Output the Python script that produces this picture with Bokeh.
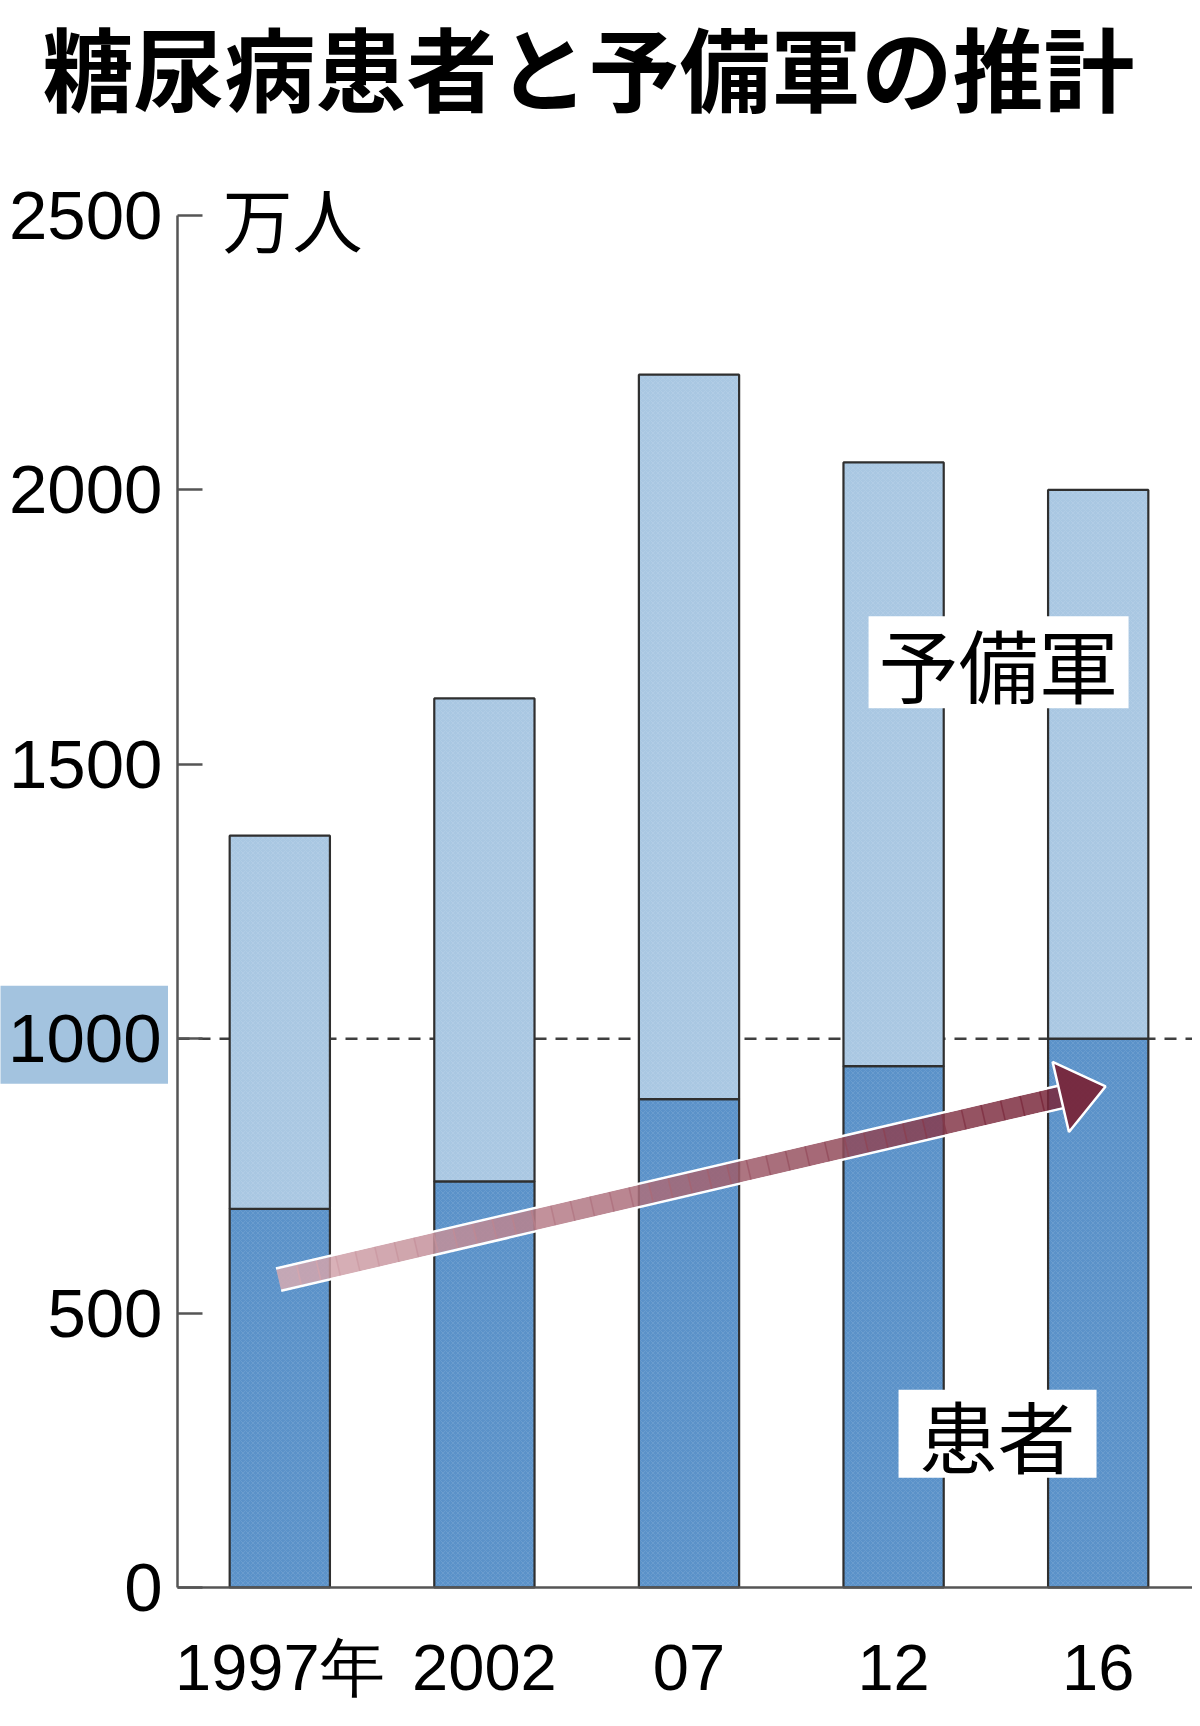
import math
from bokeh.plotting import figure
from bokeh.models import Range1d, FixedTicker, Label
from bokeh.embed import file_html
from bokeh.resources import INLINE

# ---- data ----
title_text = "糖尿病患者と予備軍の推計"
unit_text = "万人"
years = ["1997年", "2002", "07", "12", "16"]
patients = [690, 740, 890, 950, 1000]
reserve = [680, 880, 1320, 1100, 1000]
totals = [a + b for a, b in zip(patients, reserve)]
y_ticks = [0, 500, 1000, 1500, 2000, 2500]
highlight_tick = 1000
label_reserve = "予備軍"
label_patients = "患者"

# ---- style / layout ----
DARK = "#5b92c9"
LIGHT = "#a9c7e2"
EDGE = "#2f2f2f"
AXIS = "#555555"
NUM_FONT = "Liberation Sans"
JP_FONT = "Noto Sans CJK JP"

W, H = 1192, 1718
AXIS_X = 177             # pixel column of the value axis
ZERO_Y = 1587            # pixel row of the zero line
TOP_Y = 215              # pixel row of the top tick
Y_MAX = 2500
px_x = 204.6
px_y = (ZERO_Y - TOP_Y) / Y_MAX
xs = list(range(len(years)))
x_lo = -0.5 - AXIS_X / px_x
x_hi = -0.5 + (W - AXIS_X) / px_x
y_lo = -(H - ZERO_Y) / px_y
y_hi = ZERO_Y / px_y

p = figure(x_range=Range1d(x_lo, x_hi), y_range=Range1d(y_lo, y_hi),
           width=W, height=H, output_backend="svg", toolbar_location=None,
           min_border_left=0, min_border_right=0, min_border_top=0,
           min_border_bottom=0)
p.outline_line_color = None
p.background_fill_color = "white"
p.border_fill_color = "white"
p.xgrid.visible = False
p.ygrid.visible = False

# dashed 1000 reference line (behind bars)
p.segment(x0=[-0.5], y0=[highlight_tick], x1=[x_hi], y1=[highlight_tick],
          line_color="#3f3f3f", line_width=2.6, line_dash="12 9")

# stacked bars
bar_kw = dict(width=0.49, line_color=EDGE, line_width=2.2,
              hatch_pattern="diagonal_cross", hatch_color="white",
              hatch_alpha=0.12, hatch_scale=5, hatch_weight=0.8)
p.vbar(x=xs, bottom=0, top=patients, fill_color=DARK, **bar_kw)
p.vbar(x=xs, bottom=patients, top=totals, fill_color=LIGHT, **bar_kw)

# axes
xa = p.xaxis[0]
xa.fixed_location = 0
xa.ticker = FixedTicker(ticks=xs)
xa.major_label_overrides = {i: years[i] for i in xs}
xa.bounds = (-0.5, x_hi)
xa.axis_line_color = AXIS
xa.axis_line_width = 2.5
xa.major_tick_line_color = None
xa.minor_tick_line_color = None
xa.major_label_text_font = NUM_FONT
xa.major_label_text_font_size = "65px"
xa.major_label_text_color = "black"
xa.major_label_standoff = 37

ya = p.yaxis[0]
ya.fixed_location = -0.5
ya.bounds = (0, Y_MAX)
ya.ticker = FixedTicker(ticks=y_ticks)
ya.axis_line_color = AXIS
ya.axis_line_width = 2.5
ya.major_tick_line_color = AXIS
ya.major_tick_line_width = 2.5
ya.major_tick_in = 25
ya.major_tick_out = 0
ya.minor_tick_line_color = None
ya.major_label_text_font = NUM_FONT
ya.major_label_text_font_size = "69px"
ya.major_label_text_color = "black"
ya.major_label_standoff = 15
ya.major_label_overrides = {highlight_tick: ""}

# highlighted 1000 label
HL_BOX = (-0.957, highlight_tick + 7)
p.rect(x=[HL_BOX[0]], y=[HL_BOX[1]], width=[168], height=[98],
       width_units="screen", height_units="screen", fill_color="#a3c3df", line_color=None)
p.add_layout(Label(x=AXIS_X - 16, y=highlight_tick, x_units="screen", y_units="data",
                   text=str(highlight_tick), text_font=NUM_FONT, text_font_size="69px",
                   text_align="right", text_baseline="middle", text_color="black"))

# ---- trend arrow ----
ARROW_FROM = (-0.006, 561)
ARROW_TO = (4.036, 913)
sx = (ARROW_TO[0] - ARROW_FROM[0]) * px_x
sy = (ARROW_TO[1] - ARROW_FROM[1]) * px_y
L = math.hypot(sx, sy)
ux, uy = sx / L, sy / L
nx, ny = -uy, ux
HEAD_LEN, HEAD_HALF, SHAFT_HALF = 46, 36, 10.5

def off(pt, dx_px, dy_px):
    return (pt[0] + dx_px / px_x, pt[1] + dy_px / px_y)

base = off(ARROW_TO, -HEAD_LEN * ux, -HEAD_LEN * uy)
N = 40
c0 = (0xd8, 0xac, 0xb3)
c1 = (0x78, 0x26, 0x3a)
x0s, y0s, x1s, y1s, cols = [], [], [], [], []
for i in range(N):
    t0, t1 = i / N, min(1.0, (i + 1) / N + 0.002)
    x0s.append(ARROW_FROM[0] + (base[0] - ARROW_FROM[0]) * t0)
    y0s.append(ARROW_FROM[1] + (base[1] - ARROW_FROM[1]) * t0)
    x1s.append(ARROW_FROM[0] + (base[0] - ARROW_FROM[0]) * t1)
    y1s.append(ARROW_FROM[1] + (base[1] - ARROW_FROM[1]) * t1)
    tm = (i + 0.5) / N
    cols.append("#%02x%02x%02x" % tuple(int(c0[k] + (c1[k] - c0[k]) * tm) for k in range(3)))
p.segment(x0=x0s, y0=y0s, x1=x1s, y1=y1s, line_color=cols, line_width=2 * SHAFT_HALF,
          line_alpha=0.85, line_cap="butt")
for sgn in (1, -1):
    a = off(ARROW_FROM, sgn * (SHAFT_HALF + 1) * nx, sgn * (SHAFT_HALF + 1) * ny)
    b = off(base, sgn * (SHAFT_HALF + 1) * nx, sgn * (SHAFT_HALF + 1) * ny)
    p.line(x=[a[0], b[0]], y=[a[1], b[1]], line_color="white", line_width=2.5)
h1 = off(base, HEAD_HALF * nx, HEAD_HALF * ny)
h2 = off(base, -HEAD_HALF * nx, -HEAD_HALF * ny)
p.patch(x=[ARROW_TO[0], h1[0], h2[0]], y=[ARROW_TO[1], h1[1], h2[1]],
        fill_color="#78263a", fill_alpha=0.95, line_color="white", line_width=2.5)

# ---- series labels with white boxes ----
LBL_R = (3.513, 1686)
LBL_P = (3.508, 280)
p.rect(x=[LBL_R[0], LBL_P[0]], y=[LBL_R[1], LBL_P[1]], width=[260, 198], height=[92, 88],
       width_units="screen", height_units="screen", fill_color="white", line_color=None)
p.add_layout(Label(x=LBL_R[0], y=LBL_R[1], text=label_reserve, text_font=JP_FONT,
                   text_font_size="80px", text_align="center", text_baseline="middle",
                   text_color="black"))
p.add_layout(Label(x=LBL_P[0], y=LBL_P[1], text=label_patients, text_font=JP_FONT,
                   text_font_size="78px", text_align="center", text_baseline="middle",
                   text_color="black"))

# unit and title
p.add_layout(Label(x=-0.28, y=Y_MAX - 4, text=unit_text, text_font=JP_FONT,
                   text_font_size="70px", text_baseline="middle", text_color="black"))
p.add_layout(Label(x=42, y=H - 64, x_units="screen", y_units="screen", text=title_text,
                   text_font=JP_FONT, text_font_style="bold", text_font_size="91px",
                   text_baseline="middle", text_color="black"))

open("out.html", "w").write(file_html(p, INLINE))
